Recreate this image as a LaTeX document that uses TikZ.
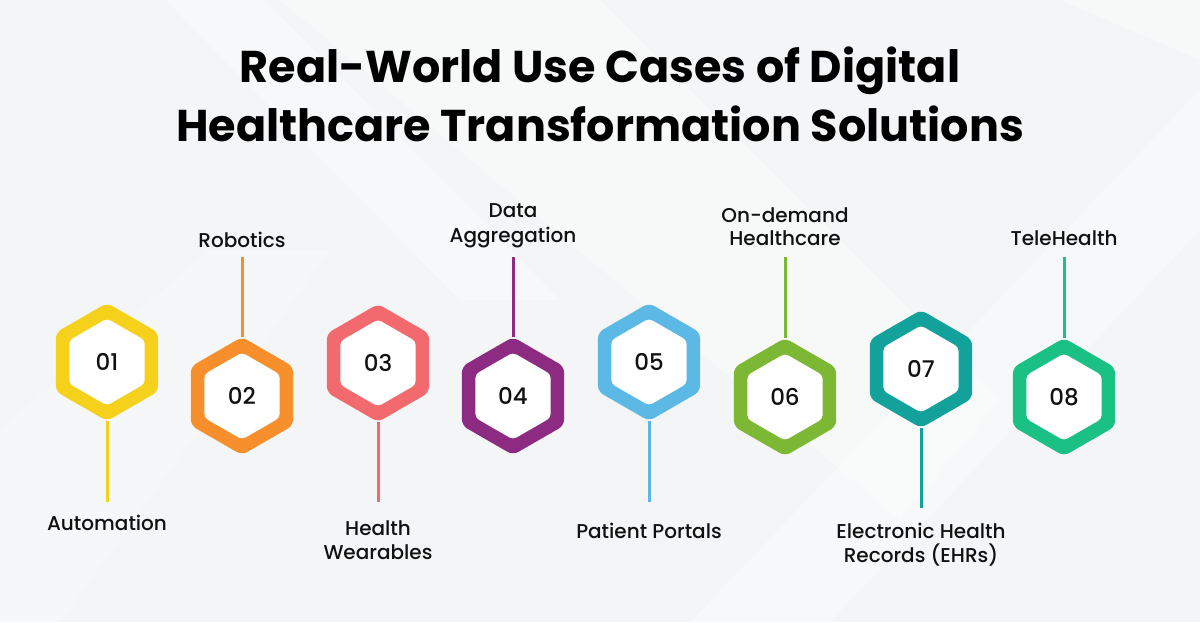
\documentclass[tikz,border=0pt]{standalone}
\usepackage{fontspec}
\setmainfont{Poppins}
\newfontfamily\medfont{Poppins Medium}
\usetikzlibrary{shapes.geometric}
\definecolor{bgc}{HTML}{F4F5F6}
\definecolor{txt}{HTML}{111111}
\definecolor{c1}{HTML}{F5D11C}
\definecolor{c2}{HTML}{F7902C}
\definecolor{c3}{HTML}{F36A6E}
\definecolor{c4}{HTML}{8D2B82}
\definecolor{c5}{HTML}{5CB8E5}
\definecolor{c6}{HTML}{7CB834}
\definecolor{c7}{HTML}{13A29B}
\definecolor{c8}{HTML}{1BC084}
\begin{document}
\begin{tikzpicture}[x=1pt,y=-1pt,
  hexout/.style={regular polygon, regular polygon sides=6, shape border rotate=30,
    minimum size=118pt, inner sep=0pt, rounded corners=6pt, fill=#1},
  hexin/.style={regular polygon, regular polygon sides=6, shape border rotate=30,
    minimum size=87pt, inner sep=0pt, rounded corners=4pt, fill=white,
    font=\medfont\fontsize{23}{23}\selectfont, text=txt},
  conn/.style={line width=3pt, draw=#1},
  lbl/.style={anchor=base, inner sep=0pt, font=\medfont\fontsize{20}{20}\selectfont, text=txt},
  ttl/.style={anchor=base, inner sep=0pt, font=\bfseries\fontsize{44.5}{44.5}\selectfont, text=black}]
\fill[bgc] (0,0) rectangle (1200,622);
\useasboundingbox (0,0) rectangle (1200,622);
% subtle background bands
\fill[white, opacity=0.35] (165,0) -- (265,0) -- (560,300) -- (460,300) -- cycle;
\fill[white, opacity=0.3] (280,0) -- (600,0) -- (1000,400) -- (900,520) -- cycle;
\fill[white, opacity=0.35] (1200,90) -- (1200,230) -- (830,622) -- (690,622) -- cycle;
\fill[white, opacity=0.25] (0,430) -- (210,250) -- (330,250) -- (60,622) -- (0,622) -- cycle;
\fill[white, opacity=0.3] (1060,0) -- (1200,0) -- (1200,60) -- cycle;
% title
\node[ttl] (t1) at (600,82) {Real-World Use Cases of Digital};
\node[ttl] (t2) at (600,141) {Healthcare Transformation Solutions};
% end coordinates
\coordinate (e1) at (107,502);
\coordinate (e2) at (242,257);
\coordinate (e3) at (378,502);
\coordinate (e4) at (513,257);
\coordinate (e5) at (649,502);
\coordinate (e6) at (785,257);
\coordinate (e7) at (921,508);
\coordinate (e8) at (1064,257);
% hexagons
\node[hexout=c1] (h1) at (107,362) {};
\node[hexout=c2] (h2) at (242,396) {};
\node[hexout=c3] (h3) at (378,363) {};
\node[hexout=c4] (h4) at (513,396) {};
\node[hexout=c5] (h5) at (649,362) {};
\node[hexout=c6] (h6) at (785,397) {};
\node[hexout=c7] (h7) at (921,369) {};
\node[hexout=c8] (h8) at (1064,397) {};
% connectors
\draw[conn=c1] (h1.270) -- (e1);
\draw[conn=c2] (h2.90) -- (e2);
\draw[conn=c3] (h3.270) -- (e3);
\draw[conn=c4] (h4.90) -- (e4);
\draw[conn=c5] (h5.270) -- (e5);
\draw[conn=c6] (h6.90) -- (e6);
\draw[conn=c7] (h7.270) -- (e7);
\draw[conn=c8] (h8.90) -- (e8);
% inner hexagons
\node[hexin] (n1) at (h1) {01};
\node[hexin] (n2) at (h2) {02};
\node[hexin] (n3) at (h3) {03};
\node[hexin] (n4) at (h4) {04};
\node[hexin] (n5) at (h5) {05};
\node[hexin] (n6) at (h6) {06};
\node[hexin] (n7) at (h7) {07};
\node[hexin] (n8) at (h8) {08};
% labels
\node[lbl] (l1) at (107,530) {Automation};
\node[lbl] (l2) at (242,247) {Robotics};
\node[lbl] (l3a) at (378,535) {Health};
\node[lbl] (l3b) at (378,559) {Wearables};
\node[lbl] (l4a) at (513,217) {Data};
\node[lbl] (l4b) at (513,242) {Aggregation};
\node[lbl] (l5) at (649,538) {Patient Portals};
\node[lbl] (l6a) at (785,222) {On-demand};
\node[lbl] (l6b) at (785,245) {Healthcare};
\node[lbl] (l7a) at (921,538) {Electronic Health};
\node[lbl] (l7b) at (921,562) {Records (EHRs)};
\node[lbl] (l8) at (1064,245) {TeleHealth};
\end{tikzpicture}
\end{document}
